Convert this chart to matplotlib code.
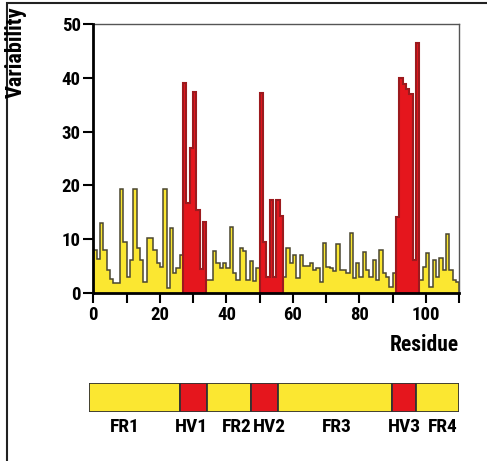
import numpy as np
import matplotlib
matplotlib.use('Agg')
import matplotlib.pyplot as plt
from matplotlib.patches import Rectangle

plt.rcParams['font.family'] = ['Roboto Condensed', 'DejaVu Sans']
plt.rcParams['font.weight'] = 'bold'

# variability of each residue (one bar per residue, residues 0..110)
variability = [
    8.0, 6.4, 13.1, 8.0, 4.3, 2.6, 1.9, 1.9, 19.3, 9.5, 3.0, 6.1, 19.3, 8.3,
    6.1, 2.1, 10.2, 10.2, 8.0, 5.5, 4.9, 19.3, 0.9, 12.0, 3.7, 4.6, 7.0,
    39.1, 16.7, 27.0, 37.4, 15.4, 4.4, 13.2,
    2.5, 2.5, 7.8, 5.5, 4.6, 5.5, 4.6, 12.3, 3.7, 2.4, 8.3, 7.8, 2.4, 6.0,
    2.2, 4.6,
    37.1, 9.5, 3.0, 17.2, 3.0, 17.2, 14.4,
    3.0, 8.3, 5.6, 7.0, 2.7, 7.0, 5.0, 5.0, 5.5, 4.3, 4.6, 2.1, 9.3, 4.9,
    4.6, 4.0, 9.2, 4.3, 4.3, 3.7, 11.2, 2.7, 5.5, 3.0, 7.6, 4.3, 3.0, 6.2,
    2.5, 7.9, 3.7, 3.0, 1.2, 3.8,
    14.1, 39.9, 38.8, 37.9, 36.9, 6.1, 46.5,
    2.4, 4.9, 7.4, 1.2, 6.1, 3.0, 6.5, 4.3, 11.0, 4.3, 2.4, 2.0,
]
# hypervariable stretches in the plot (first residue, end residue)
hv_ranges = [(27, 34), (50, 57), (91, 98)]

# the schematic strip below
region_names = ['FR1', 'HV1', 'FR2', 'HV2', 'FR3', 'HV3', 'FR4']
region_edges = [0, 27, 35, 48, 56, 90, 97, 110]
label_pos = [10.6, 30.4, 43.8, 53.4, 73.5, 93.8, 105.2]

YELLOW = '#fbe731'
RED = '#e5161d'
DARKRED = '#9c1a1e'
OUTLINE = '#4a4630'

W, H = 487, 461
fig = plt.figure(figsize=(W / 100, H / 100), dpi=100)

values = np.array(variability)
edges = np.arange(len(values) + 1)

# split into yellow / red runs
runs = []
start = 0
for a, b in hv_ranges:
    runs.append((start, a, False))
    runs.append((a, b, True))
    start = b
runs.append((start, len(values), False))

ax = fig.add_axes([93.3 / W, (H - 293) / H, 366 / W, 269 / H])
for a, b, hv in sorted(runs, key=lambda r: r[2]):
    fc = RED if hv else YELLOW
    ec = DARKRED if hv else OUTLINE
    z = 3 if hv else 2
    ax.stairs(values[a:b], edges[a:b + 1], fill=True, color=fc, lw=0, zorder=z)
    ax.stairs(values[a:b], edges[a:b + 1], baseline=0, color=ec,
              lw=1.5 if hv else 1.1, zorder=z)

ax.set_xlim(0, 110)
ax.set_ylim(0, 50)
for s in ['left', 'bottom']:
    ax.spines[s].set_linewidth(2)
    ax.spines[s].set_zorder(5)
for s in ['top', 'right']:
    ax.spines[s].set_linewidth(1)
    ax.spines[s].set_color('#555555')
ax.set_xticks(range(0, 111, 10))
ax.set_xticklabels([str(t) if t % 20 == 0 and t < 110 else '' for t in range(0, 111, 10)])
ax.set_yticks(range(0, 51, 10))
ax.tick_params(direction='out', length=7, width=1.5, labelsize=13.5, pad=2)

fig.text(459 / W, 1 - 345 / H, 'Residue', ha='right', va='center', fontsize=15.5)
fig.text(16 / W, 1 - 7 / H, 'Variability', ha='center', va='top', rotation=90, fontsize=16)

# region strip
sx = fig.add_axes([89.3 / W, (H - 411.7) / H, 370 / W, 29 / H])
sx.set_xlim(0, 110)
sx.set_ylim(0, 1)
sx.axis('off')
for name, x0, x1 in zip(region_names, region_edges[:-1], region_edges[1:]):
    fc = RED if name.startswith('HV') else YELLOW
    sx.add_patch(Rectangle((x0, 0), x1 - x0, 1, facecolor=fc, edgecolor='#333333', lw=1.3))
for name, x in zip(region_names, label_pos):
    sx.text(x, -0.2, name, ha='center', va='top', fontsize=14, clip_on=False)

# frame round the figure
fig.add_artist(Rectangle((7 / W, -0.05), 1.1, 1.05 - 3 / H, transform=fig.transFigure,
                         fill=False, lw=1.5, ec='#222222'))

fig.savefig('out.png', dpi=100)
